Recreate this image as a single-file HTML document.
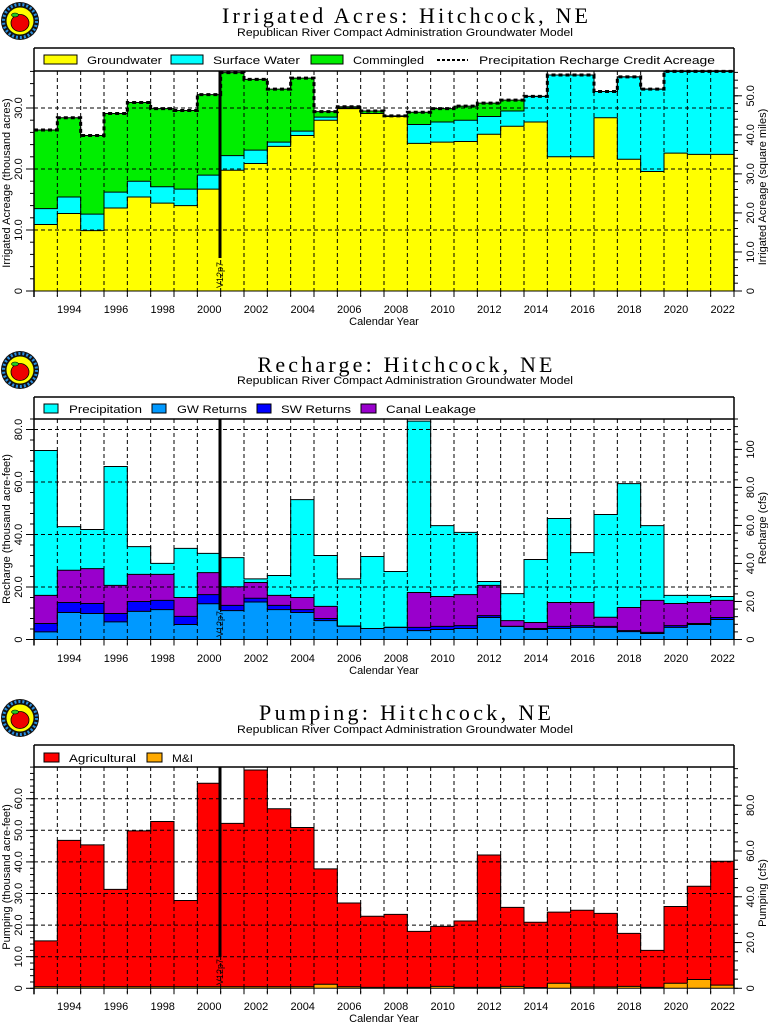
<!DOCTYPE html>
<html><head><meta charset="utf-8"><style>
html,body{margin:0;padding:0;background:#fff;}
svg{display:block;font-family:"Liberation Sans",sans-serif;}
.t{font-family:"Liberation Serif",serif;font-size:22px;}
.s{font-size:11px;}
.l{font-size:11px;}
</style></head><body>
<svg id="c" width="768" height="1024" viewBox="0 0 768 1024" xmlns="http://www.w3.org/2000/svg">
<g id="bars"></g>
<g id="ov"></g>
<g id="logos"></g>
<!-- Chart 1 text -->
<text class="t" x="405" y="23" text-anchor="middle" textLength="366" lengthAdjust="spacing">Irrigated Acres: Hitchcock, NE</text>
<text class="s" x="405" y="36" text-anchor="middle" textLength="336" lengthAdjust="spacingAndGlyphs">Republican River Compact Administration Groundwater Model</text>
<text class="l" x="87" y="64" textLength="75" lengthAdjust="spacingAndGlyphs">Groundwater</text>
<text class="l" x="213" y="64" textLength="87" lengthAdjust="spacingAndGlyphs">Surface Water</text>
<text class="l" x="353" y="64" textLength="71" lengthAdjust="spacingAndGlyphs">Commingled</text>
<text class="l" x="479" y="64" textLength="236" lengthAdjust="spacingAndGlyphs">Precipitation Recharge Credit Acreage</text>
<g class="l" text-anchor="middle">
<text x="69.3" y="313">1994</text><text x="116" y="313">1996</text><text x="162.7" y="313">1998</text><text x="209.3" y="313">2000</text><text x="256" y="313">2002</text><text x="302.7" y="313">2004</text><text x="349.3" y="313">2006</text><text x="396" y="313">2008</text><text x="442.7" y="313">2010</text><text x="489.3" y="313">2012</text><text x="536" y="313">2014</text><text x="582.7" y="313">2016</text><text x="629.3" y="313">2018</text><text x="676" y="313">2020</text><text x="722.7" y="313">2022</text>
<text x="384" y="325">Calendar Year</text>
<text transform="translate(22,291) rotate(-90)">0</text>
<text transform="translate(22,230) rotate(-90)">10.0</text>
<text transform="translate(22,169) rotate(-90)">20.0</text>
<text transform="translate(22,108) rotate(-90)">30.0</text>
<text transform="translate(10,183) rotate(-90)">Irrigated Acreage (thousand acres)</text>
<text transform="translate(754,291) rotate(-90)">0</text>
<text transform="translate(754,252) rotate(-90)">10.0</text>
<text transform="translate(754,212.9) rotate(-90)">20.0</text>
<text transform="translate(754,173.9) rotate(-90)">30.0</text>
<text transform="translate(754,134.8) rotate(-90)">40.0</text>
<text transform="translate(754,95.8) rotate(-90)">50.0</text>
<text transform="translate(766,187) rotate(-90)">Irrigated Acreage (square miles)</text>
</g>
<text transform="translate(223,275) rotate(-90)" text-anchor="middle" font-size="9">V12p7</text>

<!-- Chart 2 text -->
<text class="t" x="405" y="372" text-anchor="middle" textLength="295" lengthAdjust="spacing">Recharge: Hitchcock, NE</text>
<text class="s" x="405" y="384" text-anchor="middle" textLength="336" lengthAdjust="spacingAndGlyphs">Republican River Compact Administration Groundwater Model</text>
<text class="l" x="69" y="413" textLength="73" lengthAdjust="spacingAndGlyphs">Precipitation</text>
<text class="l" x="177" y="413" textLength="70" lengthAdjust="spacingAndGlyphs">GW Returns</text>
<text class="l" x="281" y="413" textLength="70" lengthAdjust="spacingAndGlyphs">SW Returns</text>
<text class="l" x="386" y="413" textLength="90" lengthAdjust="spacingAndGlyphs">Canal Leakage</text>
<g class="l" text-anchor="middle">
<text x="69.3" y="662">1994</text><text x="116" y="662">1996</text><text x="162.7" y="662">1998</text><text x="209.3" y="662">2000</text><text x="256" y="662">2002</text><text x="302.7" y="662">2004</text><text x="349.3" y="662">2006</text><text x="396" y="662">2008</text><text x="442.7" y="662">2010</text><text x="489.3" y="662">2012</text><text x="536" y="662">2014</text><text x="582.7" y="662">2016</text><text x="629.3" y="662">2018</text><text x="676" y="662">2020</text><text x="722.7" y="662">2022</text>
<text x="384" y="674">Calendar Year</text>
<text transform="translate(22,639.5) rotate(-90)">0</text>
<text transform="translate(22,587) rotate(-90)">20.0</text>
<text transform="translate(22,534.5) rotate(-90)">40.0</text>
<text transform="translate(22,482) rotate(-90)">60.0</text>
<text transform="translate(22,429.5) rotate(-90)">80.0</text>
<text transform="translate(10,529) rotate(-90)">Recharge (thousand acre-feet)</text>
<text transform="translate(754,639.5) rotate(-90)">0</text>
<text transform="translate(754,601.5) rotate(-90)">20.0</text>
<text transform="translate(754,563.5) rotate(-90)">40.0</text>
<text transform="translate(754,525.5) rotate(-90)">60.0</text>
<text transform="translate(754,487.4) rotate(-90)">80.0</text>
<text transform="translate(754,449.4) rotate(-90)">100</text>
<text transform="translate(766,528) rotate(-90)">Recharge (cfs)</text>
</g>
<text transform="translate(223,624) rotate(-90)" text-anchor="middle" font-size="9">V12p7</text>

<!-- Chart 3 text -->
<text class="t" x="405" y="720" text-anchor="middle" textLength="292" lengthAdjust="spacing">Pumping: Hitchcock, NE</text>
<text class="s" x="405" y="733" text-anchor="middle" textLength="336" lengthAdjust="spacingAndGlyphs">Republican River Compact Administration Groundwater Model</text>
<text class="l" x="69" y="762" textLength="67" lengthAdjust="spacingAndGlyphs">Agricultural</text>
<text class="l" x="172" y="762" textLength="21" lengthAdjust="spacingAndGlyphs">M&amp;I</text>
<g class="l" text-anchor="middle">
<text x="69.3" y="1010">1994</text><text x="116" y="1010">1996</text><text x="162.7" y="1010">1998</text><text x="209.3" y="1010">2000</text><text x="256" y="1010">2002</text><text x="302.7" y="1010">2004</text><text x="349.3" y="1010">2006</text><text x="396" y="1010">2008</text><text x="442.7" y="1010">2010</text><text x="489.3" y="1010">2012</text><text x="536" y="1010">2014</text><text x="582.7" y="1010">2016</text><text x="629.3" y="1010">2018</text><text x="676" y="1010">2020</text><text x="722.7" y="1010">2022</text>
<text x="384" y="1022">Calendar Year</text>
<text transform="translate(22,988.3) rotate(-90)">0</text>
<text transform="translate(22,956.7) rotate(-90)">10.0</text>
<text transform="translate(22,925.1) rotate(-90)">20.0</text>
<text transform="translate(22,893.5) rotate(-90)">30.0</text>
<text transform="translate(22,861.9) rotate(-90)">40.0</text>
<text transform="translate(22,830.3) rotate(-90)">50.0</text>
<text transform="translate(22,798.7) rotate(-90)">60.0</text>
<text transform="translate(10,877) rotate(-90)">Pumping (thousand acre-feet)</text>
<text transform="translate(754,988.3) rotate(-90)">0</text>
<text transform="translate(754,942.5) rotate(-90)">20.0</text>
<text transform="translate(754,896.8) rotate(-90)">40.0</text>
<text transform="translate(754,851) rotate(-90)">60.0</text>
<text transform="translate(754,805.3) rotate(-90)">80.0</text>
<text transform="translate(766,893) rotate(-90)">Pumping (cfs)</text>
</g>
<text transform="translate(223,972) rotate(-90)" text-anchor="middle" font-size="9">V12p7</text>
</svg>
<script>
var NS="http://www.w3.org/2000/svg";
var B=document.getElementById("bars"),O=document.getElementById("ov"),L=document.getElementById("logos");
function el(p,t,a){var e=document.createElementNS(NS,t);for(var k in a)e.setAttribute(k,a[k]);p.appendChild(e);return e;}
var X0=34,BW=700/30,XR=734;
function xb(i){return X0+i*BW;}
function chart(c){
  var y=function(v){return c.y0-v*c.k;};
  for(var s=c.series.length-1;s>=0;s--){
    var S=c.series[s];
    for(var i=0;i<30;i++){var v=S.v[i];if(v<=0)continue;
      el(B,"rect",{x:xb(i),y:y(v),width:BW+0.3,height:c.y0-y(v),fill:S.c});}
  }
  for(var i=1;i<30;i++)el(O,"line",{x1:xb(i),x2:xb(i),y1:c.top,y2:c.y0+5,stroke:"#000","stroke-width":1,"stroke-dasharray":"4,3"});
  c.grid.forEach(function(v){el(O,"line",{x1:X0,x2:XR,y1:y(v),y2:y(v),stroke:"#000","stroke-width":1,"stroke-dasharray":"4,3"});});
  c.series.forEach(function(S){
    var p="";for(var i=0;i<30;i++){p+=xb(i)+","+y(S.v[i])+" "+xb(i+1)+","+y(S.v[i])+" ";}
    el(O,"polyline",{points:p,fill:"none",stroke:"#000","stroke-width":1});
  });
  for(var v=0;c.y0-v*c.k>=c.top;v+=c.minor){el(O,"line",{x1:X0-4,x2:X0,y1:y(v),y2:y(v),stroke:"#000"});}
  c.grid.concat([0]).forEach(function(v){el(O,"line",{x1:X0-8,x2:X0,y1:y(v),y2:y(v),stroke:"#000"});});
  for(var v=0;c.y0-v*c.rk>=c.top;v+=c.rminor){var yy=c.y0-v*c.rk;el(O,"line",{x1:XR,x2:XR+4,y1:yy,y2:yy,stroke:"#000"});}
  c.rmaj.forEach(function(v){var yy=c.y0-v*c.rk;el(O,"line",{x1:XR,x2:XR+8,y1:yy,y2:yy,stroke:"#000"});});
  for(var i=0;i<=30;i++)el(O,"line",{x1:xb(i),x2:xb(i),y1:c.y0,y2:c.y0+6,stroke:"#000"});
  el(O,"line",{x1:X0,x2:X0,y1:c.lt,y2:c.y0+6,stroke:"#000","stroke-width":1.5});
  el(O,"line",{x1:XR,x2:XR,y1:c.lt,y2:c.y0,stroke:"#000","stroke-width":1.5});
  el(O,"line",{x1:X0,x2:XR,y1:c.lt,y2:c.lt,stroke:"#000","stroke-width":1.5});
  el(O,"line",{x1:X0,x2:XR,y1:c.top,y2:c.top,stroke:"#000","stroke-width":1.5});
  el(O,"line",{x1:X0,x2:XR,y1:c.y0,y2:c.y0,stroke:"#000","stroke-width":1});
  el(O,"line",{x1:220,x2:220,y1:c.top,y2:c.vend,stroke:"#000","stroke-width":3});
  c.leg.forEach(function(g){el(O,"rect",{x:g[0],y:g[1],width:g[2],height:9,fill:g[3],stroke:"#000","stroke-width":1});});
}
var gw=[10.9,12.7,9.9,13.6,15.4,14.4,14.0,16.7,19.8,20.9,23.7,25.5,28.0,29.9,29.1,28.6,24.2,24.4,24.5,25.7,27.0,27.7,22.0,22.0,28.4,21.6,19.6,22.6,22.4,22.4];
var sw=[13.5,15.4,12.6,16.2,18.0,17.1,16.7,19.0,22.2,23.1,24.4,26.2,28.5,30.0,29.1,28.6,27.3,27.7,28.0,28.6,29.5,31.9,35.4,35.4,32.7,35.1,33.1,36.0,36.0,36.0];
var cm=[26.4,28.4,25.5,29.1,30.9,29.9,29.6,32.2,35.8,34.7,33.1,34.9,29.4,30.2,29.5,28.7,29.3,29.9,30.3,30.8,31.3,31.9,35.4,35.4,32.7,35.1,33.1,36.0,36.0,36.0];
chart({y0:291,k:6.1,top:71,lt:48,grid:[10,20,30],minor:2,rk:3.904,rminor:2,rmaj:[0,10,20,30,40,50],vend:258,
 series:[{c:"#ffff00",v:gw},{c:"#00ffff",v:sw},{c:"#00ee00",v:cm}],
 leg:[[44,55,33,"#ffff00"],[171,55,32,"#00ffff"],[311,55,32,"#00ee00"]]});
(function(){var p="";for(var i=0;i<30;i++){var yy=291-cm[i]*6.1;p+=xb(i)+","+yy+" "+xb(i+1)+","+yy+" ";}
el(O,"polyline",{points:p,fill:"none",stroke:"#000","stroke-width":3,"stroke-dasharray":"4,3"});
el(O,"line",{x1:437,x2:468,y1:60,y2:60,stroke:"#000","stroke-width":2,"stroke-dasharray":"3,2"});})();
var g2=[2.9,10.3,9.9,6.7,10.7,11.4,5.7,13.6,11.0,14.3,11.4,10.3,7.2,5.1,4.2,4.6,3.4,3.8,4.2,8.4,5.0,3.8,4.2,4.6,4.6,3.0,2.3,4.6,5.7,7.6];
var s2=[6.1,14.1,13.7,9.9,14.5,14.9,8.8,17.1,13.0,15.7,13.0,11.4,8.0,5.1,4.2,4.6,4.6,5.0,5.3,9.1,5.0,4.2,5.0,5.3,5.0,3.4,2.7,5.3,6.1,8.4];
var l2=[16.8,26.4,27.0,20.6,24.8,24.8,16.0,25.5,20.1,21.7,16.8,16.0,12.6,5.1,4.2,4.6,17.9,16.4,17.1,20.6,7.2,6.5,14.1,14.1,8.5,12.2,14.9,13.7,14.1,14.9];
var p2=[72,43.0,41.9,65.9,35.4,29.0,34.7,32.8,31.2,23.1,24.4,53.3,32.0,23.1,31.6,25.9,83.2,43.4,40.8,22.1,17.5,30.5,46.1,33.1,47.6,59.4,43.4,16.8,16.8,16.4];
chart({y0:639.5,k:2.625,top:419,lt:397,grid:[20,40,60,80],minor:4,rk:1.9008,rminor:4,rmaj:[0,20,40,60,80,100],vend:610,
 series:[{c:"#0099ff",v:g2},{c:"#0000ff",v:s2},{c:"#9900cc",v:l2},{c:"#00ffff",v:p2}],
 leg:[[44,404,14,"#00ffff"],[152,404,14,"#0099ff"],[257,404,14,"#0000ff"],[361,404,15,"#9900cc"]]});
var m3=[0.5,0.5,0.5,0.5,0.5,0.5,0.5,0.5,0.5,0.5,0.5,0.5,1.3,0.5,0.3,0.3,0.3,0.6,0.3,0.3,0.6,0.2,1.6,0.4,0.4,0.6,0.3,1.6,2.8,1.0];
var a3=[15.0,46.8,45.4,31.3,49.8,52.8,27.8,64.9,52.2,69.1,56.8,50.9,37.8,27.0,22.8,23.4,18.0,19.6,21.3,42.2,25.6,20.9,24.1,24.7,23.7,17.4,12.0,25.9,32.3,40.2];
chart({y0:988.3,k:3.16,top:767,lt:745,grid:[10,20,30,40,50,60],minor:2,rk:2.288,rminor:4,rmaj:[0,20,40,60,80],vend:957,
 series:[{c:"#ffaa00",v:m3},{c:"#ff0000",v:a3}],
 leg:[[44,753,15,"#ff0000"],[147,753,15,"#ffaa00"]]});
[21,370,718].forEach(function(cy){
 el(L,"circle",{cx:20,cy:cy,r:19,fill:"#111"});
 el(L,"circle",{cx:20,cy:cy,r:16.5,fill:"none",stroke:"#2a8fe0","stroke-width":3,"stroke-dasharray":"2,2"});
 el(L,"circle",{cx:20,cy:cy,r:13.5,fill:"#ffff00"});
 el(L,"ellipse",{cx:20,cy:cy+2,rx:9,ry:8.5,fill:"#ee0000",stroke:"#000","stroke-width":0.8});
 el(L,"ellipse",{cx:15,cy:cy-6,rx:3.5,ry:2,fill:"#22cc22",stroke:"#000","stroke-width":0.6});
});
</script>
</body></html>
